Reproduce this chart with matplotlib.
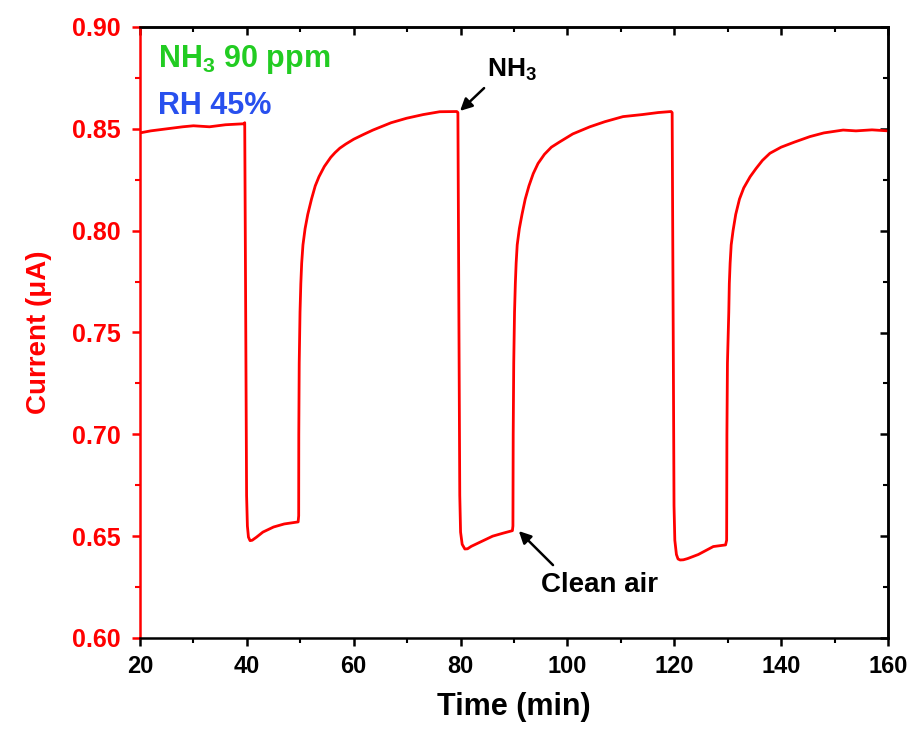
import matplotlib
matplotlib.use("Agg")
import matplotlib.pyplot as plt
from matplotlib.ticker import MultipleLocator, FormatStrFormatter

plt.rcParams['font.family'] = ['Liberation Sans', 'DejaVu Sans']
plt.rcParams['font.weight'] = 'bold'
plt.rcParams['mathtext.fontset'] = 'custom'
plt.rcParams['mathtext.rm'] = 'Liberation Sans:bold'
plt.rcParams['mathtext.default'] = 'rm'

# readings: time (min), current (uA)
time = [20, 22, 25, 28, 30, 33, 36, 39.5,
        39.6, 39.8, 39.95, 40.1, 40.3, 40.6, 41.0, 41.8, 43, 45, 47, 49.6,
        49.7, 49.72, 49.8, 49.95, 50.1, 50.26, 50.5, 50.9, 51.4, 52.1, 52.8, 53.5, 54.5, 55.7, 56.5, 57.4,
        58.5, 60, 61.8, 63.6, 67, 69.9, 73, 76.1, 79.3,
        79.5, 79.7, 79.85, 80.0, 80.3, 80.8, 81.3, 82, 84, 86, 88, 89.7,
        89.8, 89.85, 89.95, 90.1, 90.25, 90.4, 90.6, 91.0, 91.5, 92.1, 92.8, 93.6, 94.5, 95.7, 97, 98.5,
        101, 104.2, 107, 110.4, 114, 117, 119.4,
        119.6, 119.8, 119.95, 120.1, 120.4, 120.7, 121.1, 121.7, 122.5, 124.5, 127.3, 129.6,
        129.8, 129.85, 129.95, 130.2, 130.3, 130.45, 130.65, 131.0, 131.5, 132.2, 133, 134.2, 135.3,
        136.5, 137.9, 140, 142.5, 145.4, 148, 151.6, 154, 157, 160]
current = [0.848, 0.849, 0.850, 0.851, 0.8515, 0.851, 0.852, 0.8525,
           0.853, 0.75, 0.67, 0.655, 0.6495, 0.6478, 0.648, 0.6495, 0.652, 0.6545, 0.656, 0.657,
           0.66, 0.70, 0.735, 0.760, 0.774, 0.784, 0.793, 0.801, 0.808, 0.8155, 0.822, 0.8265, 0.8315, 0.836, 0.8383, 0.8405,
           0.8425, 0.8449, 0.8472, 0.8494, 0.853, 0.8552, 0.857, 0.8584, 0.8585,
           0.858, 0.75, 0.67, 0.652, 0.646, 0.6437, 0.6438, 0.645, 0.6475, 0.650, 0.6515, 0.6527,
           0.655, 0.70, 0.735, 0.760, 0.774, 0.784, 0.793, 0.801, 0.808, 0.8155, 0.822, 0.828, 0.833, 0.8375, 0.841, 0.8435,
           0.8475, 0.851, 0.8535, 0.856, 0.857, 0.858, 0.8585,
           0.858, 0.75, 0.665, 0.648, 0.641, 0.6388, 0.6383, 0.6384, 0.639, 0.641, 0.6449, 0.6457,
           0.648, 0.70, 0.735, 0.760, 0.774, 0.784, 0.793, 0.800, 0.808, 0.8155, 0.821, 0.8265, 0.8305,
           0.8345, 0.838, 0.841, 0.8435, 0.8462, 0.848, 0.8494, 0.849, 0.8495, 0.849]

fig = plt.figure(figsize=(9.11, 7.35), dpi=100)
ax = fig.add_axes([140 / 911, 97 / 735, 748 / 911, 611 / 735])

ax.plot(time, current, color='#ff0000', lw=2.0)

ax.set_xlim(20, 160)
ax.set_ylim(0.60, 0.90)
ax.xaxis.set_major_locator(MultipleLocator(20))
ax.xaxis.set_minor_locator(MultipleLocator(10))
ax.yaxis.set_major_locator(MultipleLocator(0.05))
ax.yaxis.set_minor_locator(MultipleLocator(0.025))
ax.yaxis.set_major_formatter(FormatStrFormatter('%.2f'))

for s in ax.spines.values():
    s.set_linewidth(1.8)
ax.spines['left'].set_color('#ff0000')

ax.tick_params(axis='both', which='major', length=6, width=1.8)
ax.tick_params(axis='both', which='minor', length=3.5, width=1.5)
ax.tick_params(axis='x', which='both', direction='out', bottom=True, top=False,
               labelsize=17, pad=6)
ax.tick_params(axis='y', which='both', direction='out', left=True, right=False,
               colors='#ff0000', labelcolor='#ff0000', labelsize=18, pad=8)
# inward ticks on top and right
ax2 = ax.secondary_xaxis('top')
ax2.xaxis.set_major_locator(MultipleLocator(20))
ax2.xaxis.set_minor_locator(MultipleLocator(10))
ax2.tick_params(which='major', direction='in', length=6, width=1.8, labeltop=False)
ax2.tick_params(which='minor', direction='in', length=3.5, width=1.5)
ax3 = ax.secondary_yaxis('right')
ax3.yaxis.set_major_locator(MultipleLocator(0.05))
ax3.yaxis.set_minor_locator(MultipleLocator(0.025))
ax3.tick_params(which='major', direction='in', length=6, width=1.8, labelright=False)
ax3.tick_params(which='minor', direction='in', length=3.5, width=1.5)
ax2.spines['top'].set_linewidth(1.8)
ax3.spines['right'].set_linewidth(1.8)

ax.set_xlabel('Time (min)', fontsize=22, fontweight='bold', labelpad=10)
ax.set_ylabel('Current (\u03bcA)', fontsize=20, fontweight='bold', color='#ff0000', labelpad=14)

ax.text(23.4, 0.8838, 'NH$_3$ 90 ppm', color='#22cc22',
        fontsize=22, fontweight='bold', va='center', ha='left')
ax.text(23.4, 0.8612, 'RH 45%', color='#2850ee',
        fontsize=22, fontweight='bold', va='center', ha='left')

ax.text(84.9, 0.8789, 'NH$_3$', fontsize=19, fontweight='bold', ha='left', va='center')
ax.annotate('', xy=(79.9, 0.8588), xytext=(84.4, 0.870),
            arrowprops=dict(arrowstyle='-|>', color='black', lw=1.8, mutation_scale=18,
                            shrinkA=0, shrinkB=0))
ax.text(95.05, 0.626, 'Clean air', fontsize=20, fontweight='bold', ha='left', va='center')
ax.annotate('', xy=(90.9, 0.6525), xytext=(97.3, 0.6358),
            arrowprops=dict(arrowstyle='-|>', color='black', lw=1.8, mutation_scale=18,
                            shrinkA=0, shrinkB=0))

fig.savefig('out.png', dpi=100)
